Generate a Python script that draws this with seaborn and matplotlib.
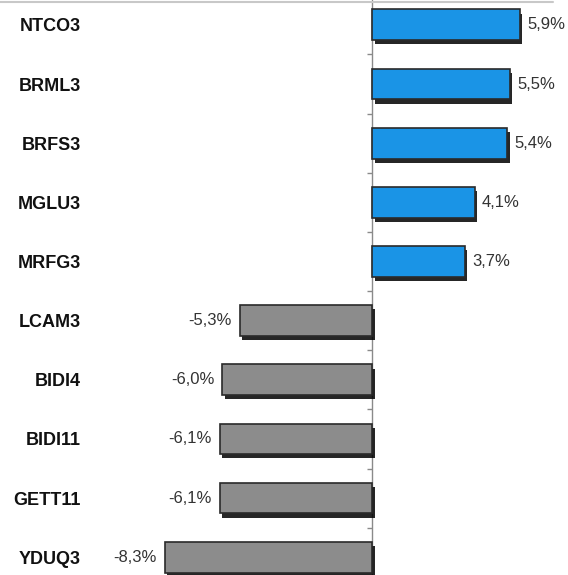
import matplotlib
matplotlib.use('Agg')
import matplotlib.pyplot as plt
import matplotlib.patheffects as pe
from matplotlib.lines import Line2D
import seaborn as sns
import numpy as np

tickers = ['NTCO3', 'BRML3', 'BRFS3', 'MGLU3', 'MRFG3',
           'LCAM3', 'BIDI4', 'BIDI11', 'GETT11', 'YDUQ3']
returns = [5.9, 5.5, 5.4, 4.1, 3.7, -5.3, -6.0, -6.1, -6.1, -8.3]
labels = ['5,9%', '5,5%', '5,4%', '4,1%', '3,7%',
          '-5,3%', '-6,0%', '-6,1%', '-6,1%', '-8,3%']

sns.set_style('white')
plt.rcParams['font.family'] = ['Liberation Sans', 'DejaVu Sans']

blue = '#1a94e6'
grey = '#8c8c8c'
colors = {t: (blue if v > 0 else grey) for t, v in zip(tickers, returns)}

fig = plt.figure(figsize=(5.68, 5.75), dpi=100)
ax = fig.add_axes([150 / 568, 0, 410 / 568, 1])

sns.barplot(x=returns, y=tickers, hue=tickers, palette=colors, legend=False,
            orient='h', width=0.52, saturation=1, edgecolor='#2a2a2a',
            linewidth=1.2, ax=ax)

# fake 3D look: dark drop shadow under each bar
for p in ax.patches:
    p.set_path_effects([pe.SimplePatchShadow(offset=(2, -3), shadow_rgbFace='black', alpha=0.85),
                        pe.Normal()])

ax.set_xlim(-8.88, 7.52)
ax.set_ylim(9.30, -0.42)

ax.axvline(0, color='#8a8a8a', lw=1, zorder=0)
ax.hlines(np.arange(len(tickers)) - 0.5, -0.2, 0, color='#8a8a8a', lw=1)

for i, (v, s) in enumerate(zip(returns, labels)):
    if v > 0:
        ax.text(v + 0.3, i, s, va='center', ha='left', fontsize=12, color='#333333')
    else:
        ax.text(v - 0.3, i, s, va='center', ha='right', fontsize=12, color='#333333')

ax.set_xticks([])
ax.set_yticks(range(len(tickers)))
ax.set_yticklabels(tickers, fontsize=13, fontweight='bold', color='#111111')
ax.tick_params(axis='y', length=0, pad=50)
ax.set_xlabel('')
ax.set_ylabel('')
for sp in ax.spines.values():
    sp.set_visible(False)

fig.add_artist(Line2D([0, 553 / 568], [1 - 2 / 575, 1 - 2 / 575],
                      color='#c8c8c8', lw=1.5, transform=fig.transFigure))

plt.savefig('out.png', dpi=100)
